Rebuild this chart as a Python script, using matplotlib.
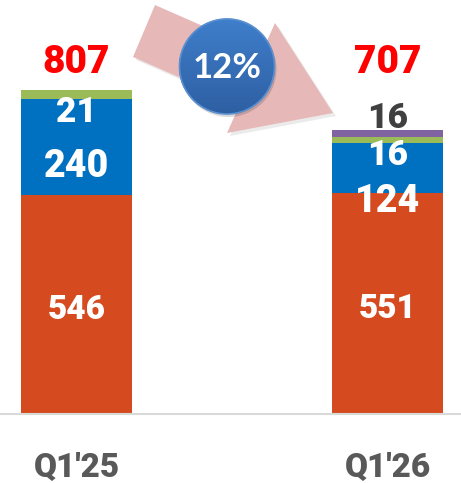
import matplotlib
matplotlib.use("Agg")
import matplotlib.pyplot as plt
import numpy as np
from matplotlib.patches import Polygon, Circle
from matplotlib.colors import LinearSegmentedColormap

# ---- data ----
categories = ["Q1'25", "Q1'26"]
seg_orange = [546, 551]
seg_blue = [240, 124]
seg_green = [21, 16]
seg_purple = [0, 16]
totals = [807, 707]
change_label = "12%"

# ---- style ----
C_OR = "#D54A1F"
C_BL = "#0070C0"
C_GR = "#9BBB59"
C_PU = "#8064A2"
FONT = "Roboto"
WT = "heavy"
DPI = 100
W, H = 461, 483
PX = 0.72  # points per pixel at dpi 100

fig = plt.figure(figsize=(W / DPI, H / DPI), dpi=DPI)
ax = fig.add_axes([0, 69 / H, 1, 414 / H])
x = np.arange(len(categories))
bw = 0.357
ax.bar(x, seg_orange, bw, color=C_OR, zorder=2)
b1 = np.array(seg_orange)
ax.bar(x, seg_blue, bw, bottom=b1, color=C_BL, zorder=2)
b2 = b1 + np.array(seg_blue)
ax.bar(x, seg_green, bw, bottom=b2, color=C_GR, zorder=2)
b3 = b2 + np.array(seg_green)
ax.bar(x, seg_purple, bw, bottom=b3, color=C_PU, zorder=2)
b4 = b3 + np.array(seg_purple)

ax.set_xlim(-0.246, 1.236)
ax.set_ylim(0, 1032)
for s in ["top", "right", "left"]:
    ax.spines[s].set_visible(False)
ax.spines["bottom"].set_color("#D9D9D9")
ax.spines["bottom"].set_linewidth(1.5)
ax.set_yticks([])
ax.set_xticks(x)
ax.set_xticklabels([""] * len(categories))
ax.tick_params(axis="x", length=0)
for xi, c in zip(x, categories):
    ax.annotate(c, (xi, 0), xytext=(0, -63 * PX), textcoords="offset points",
                xycoords=ax.get_xaxis_transform(), ha="center", va="baseline",
                fontsize=24, fontweight=WT, color="#595959",
                fontfamily=FONT, annotation_clip=False)


def lab(xi, yv, txt, dy_px, size, color="white"):
    ax.annotate(txt, (xi, yv), xytext=(0, dy_px * PX), textcoords="offset points",
                ha="center", va="baseline", fontsize=size, fontweight=WT,
                color=color, fontfamily=FONT, zorder=5)

# orange labels
lab(0, seg_orange[0] / 2, str(seg_orange[0]), -14.5, 24)
lab(1, seg_orange[1] / 2, str(seg_orange[1]), -14.5, 24)
# blue labels
lab(0, b1[0] + seg_blue[0] / 2, str(seg_blue[0]), -30, 27)
lab(1, b1[1] + seg_blue[1] / 2, str(seg_blue[1]), -44, 27)
# green labels
lab(0, b2[0] + seg_green[0] / 2, str(seg_green[0]), -27.4, 25.5)
lab(1, b2[1] + seg_green[1] / 2, str(seg_green[1]), -25, 25.5)
# purple label (above)
lab(1, b4[1], str(seg_purple[1]), 2.5, 25.5, color="#404040")

# totals
for xi, t in zip(x, totals):
    ax.text(xi, 0.8237, str(t), transform=ax.get_xaxis_transform(), ha="center",
            va="baseline", fontsize=28, fontweight=WT, color="#FF0000",
            fontfamily=FONT, zorder=5)

# ---- decoration: arrow + circle (figure pixel space) ----
ov = fig.add_axes([0, 0, 1, 1], zorder=10)
ov.set_xlim(0, W)
ov.set_ylim(H, 0)
ov.axis("off")
ov.patch.set_alpha(0)
arrow = [(155, 5), (262, 52), (275, 23), (333, 113), (227, 133), (240, 104), (133, 57)]
shadow = [(px + 3, py + 3) for px, py in arrow]
ov.add_patch(Polygon(shadow, closed=True, fc="#000000", ec="none", alpha=0.08))
ov.add_patch(Polygon(arrow, closed=True, fc="#E6B9B8", ec="none"))

cx, cy, r = 227, 66.5, 48
ov.add_patch(Circle((cx + 1.5, cy + 2.5), r, fc="#000000", ec="none", alpha=0.15))
cmap = LinearSegmentedColormap.from_list("g", ["#3F7FCB", "#2E5FA3"])
grad = np.linspace(0, 1, 256).reshape(-1, 1)
im = ov.imshow(grad, cmap=cmap, extent=(cx - r, cx + r, cy + r, cy - r),
               aspect="auto", zorder=3)
clip = Circle((cx, cy), r, transform=ov.transData)
im.set_clip_path(clip)
ov.add_patch(Circle((cx, cy), r - 0.5, fc="none", ec="#5A8FD0", lw=1.2, zorder=4))
ov.text(cx, cy + 12, change_label, ha="center", va="baseline", fontsize=25,
        fontweight="bold", color="white", fontfamily="Lato", zorder=5)
ov.set_xlim(0, W)
ov.set_ylim(H, 0)

fig.savefig("out.png", dpi=DPI)
